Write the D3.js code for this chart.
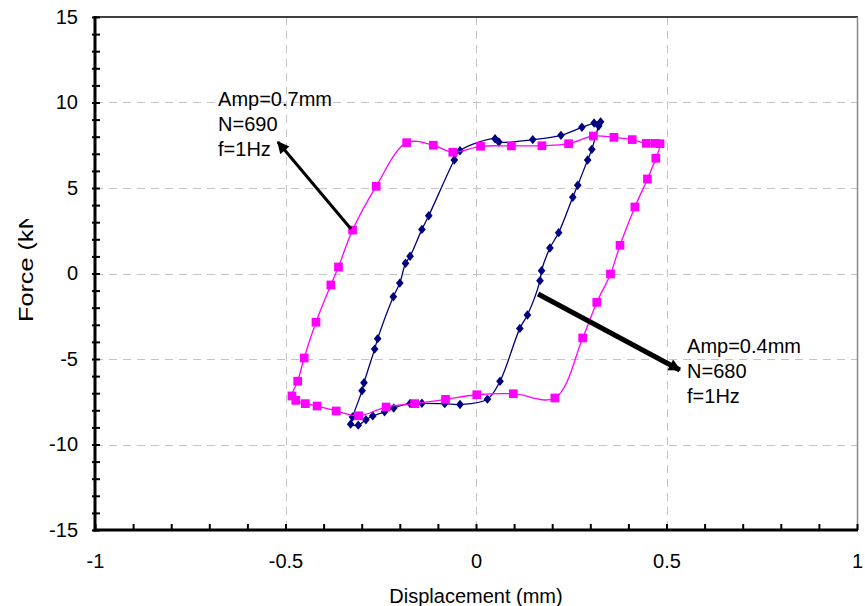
<!DOCTYPE html>
<html>
<head>
<meta charset="utf-8">
<script src="https://cdn.jsdelivr.net/npm/d3@7/dist/d3.min.js"></script>
<style>
  html, body { margin: 0; padding: 0; background: #fff; }
  svg { display: block; font-family: "Liberation Sans", Arial, sans-serif; }
</style>
</head>
<body>
<svg id="chart" width="865" height="606"></svg>
<script>
// Hysteresis loops: force vs. displacement for two test amplitudes (f = 1 Hz)

// Amp = 0.7 mm, N = 690 (magenta squares), points taken around the loop
const amp07Disp = [
  -0.182, -0.262, -0.324, -0.361, -0.381, -0.420, -0.451, -0.468, -0.483, -0.473,
  -0.448, -0.417, -0.367, -0.308, -0.236, -0.161, -0.080, 0.002, 0.098, 0.207,
  0.280, 0.317, 0.353, 0.378, 0.417, 0.450, 0.472, 0.483, 0.470, 0.447,
  0.410, 0.362, 0.308, 0.243, 0.173, 0.093, 0.012, -0.061, -0.112
];
const amp07Force = [
  7.65, 5.10, 2.54, 0.38, -0.67, -2.85, -4.94, -6.30, -7.16, -7.42,
  -7.61, -7.75, -8.04, -8.32, -7.81, -7.61, -7.36, -7.09, -7.03, -7.28,
  -3.77, -1.69, -0.03, 1.65, 3.89, 5.53, 6.74, 7.59, 7.61, 7.61,
  7.83, 7.96, 8.04, 7.59, 7.47, 7.46, 7.44, 7.09, 7.50
];

// Amp = 0.4 mm, N = 680 (navy diamonds)
const amp04Disp = [
  -0.042, 0.050, 0.060, 0.149, 0.223, 0.278, 0.310, 0.327, 0.322,
  0.304, 0.293, 0.267, 0.254, 0.217, 0.194, 0.172, 0.168, 0.135, 0.115, 0.063, 0.030,
  -0.042, -0.082, -0.142, -0.173, -0.216, -0.240, -0.271, -0.289, -0.309, -0.329,
  -0.324, -0.299, -0.294, -0.266, -0.258, -0.217, -0.200, -0.185, -0.173, -0.142, -0.124, -0.057
];
const amp04Force = [
  7.18, 7.88, 7.69, 7.83, 8.08, 8.55, 8.80, 8.87, 8.62,
  7.26, 6.64, 5.16, 4.46, 2.39, 1.49, 0.16, -0.42, -2.43, -3.21, -6.30, -7.35,
  -7.66, -7.61, -7.59, -7.60, -7.87, -8.09, -8.33, -8.55, -8.87, -8.81,
  -8.39, -6.85, -6.39, -4.42, -3.81, -1.36, -0.56, 0.60, 1.01, 2.58, 3.38, 6.64
];

// Axis ticks
const xMajorTicks = [-1, -0.5, 0, 0.5, 1];
const xMinorTicks = d3.range(-10, 11).map(d => d / 10);
const yMajorTicks = [-15, -10, -5, 0, 5, 10, 15];
const yMinorTicks = d3.range(-15, 16);
const xGrid = [-0.5, 0, 0.5];
const yGrid = [-10, -5, 0, 5, 10];

// Annotations: text block anchor (data units) and arrow tail -> head (data units)
const noteLines07 = ["Amp=0.7mm", "N=690", "f=1Hz"];
const noteLines04 = ["Amp=0.4mm", "N=680", "f=1Hz"];
const noteAnchor07 = [-0.677, 9.80];
const noteAnchor04 = [0.554, -4.67];
const arrow07 = [[-0.328, 2.60], [-0.520, 7.69]];
const arrow04 = [[0.163, -1.20], [0.535, -5.64]];

const svg = d3.select("#chart");
const x = d3.scaleLinear().domain([-1, 1]).range([95, 857]);
const y = d3.scaleLinear().domain([-15, 15]).range([530, 17]);

svg.append("rect").attr("width", 865).attr("height", 606).attr("fill", "#fff");

// gridlines
const grid = svg.append("g").attr("stroke", "#c4c4c4").attr("stroke-width", 1)
  .attr("stroke-dasharray", "8,6");
grid.selectAll(".gx").data(xGrid).join("line")
  .attr("x1", d => Math.round(x(d)) + 0.5).attr("x2", d => Math.round(x(d)) + 0.5)
  .attr("y1", y(15)).attr("y2", y(-15));
grid.selectAll(".gy").data(yGrid).join("line")
  .attr("y1", d => Math.round(y(d)) + 0.5).attr("y2", d => Math.round(y(d)) + 0.5)
  .attr("x1", x(-1)).attr("x2", x(1));

// frame: top black, right grey
svg.append("line").attr("x1", x(-1)).attr("x2", x(1) + 1).attr("y1", y(15)).attr("y2", y(15))
  .attr("stroke", "#000").attr("stroke-width", 1.5);
svg.append("line").attr("x1", x(1) + 0.5).attr("x2", x(1) + 0.5).attr("y1", y(15)).attr("y2", y(-15))
  .attr("stroke", "#8a8a8a").attr("stroke-width", 1.5);

const fmt = d => String(d);

// left axis: ticks crossing the line
const yLeft = svg.append("g").attr("transform", `translate(${x(-1)},0)`)
  .call(d3.axisLeft(y).tickValues(yMinorTicks).tickSize(3).tickFormat(""));
const yRight = svg.append("g").attr("transform", `translate(${x(-1)},0)`)
  .call(d3.axisRight(y).tickValues(yMinorTicks).tickSize(5).tickFormat(""));
const yLabels = svg.append("g").attr("transform", `translate(${x(-1)},0)`)
  .call(d3.axisLeft(y).tickValues(yMajorTicks).tickSize(0).tickPadding(17).tickFormat(fmt));

// bottom axis: ticks pointing up into the plot
const xInner = svg.append("g").attr("transform", `translate(0,${y(-15)})`)
  .call(d3.axisTop(x).tickValues(xMinorTicks).tickSize(6).tickFormat(""));
const xLabels = svg.append("g").attr("transform", `translate(0,${y(-15)})`)
  .call(d3.axisBottom(x).tickValues(xMajorTicks).tickSize(0).tickPadding(24).tickFormat(fmt));

[yLeft, yRight, xInner].forEach(g => {
  g.selectAll(".tick line").attr("stroke", "#000").attr("stroke-width", 2);
  g.select(".domain").remove();
});
[yLabels, xLabels].forEach(g => {
  g.select(".domain").remove();
  g.selectAll("text").attr("font-size", 20).attr("fill", "#000")
    .attr("font-family", "Liberation Sans, Arial, sans-serif");
});

// heavy axis lines
svg.append("line").attr("x1", x(-1)).attr("x2", x(-1)).attr("y1", y(15) - 1).attr("y2", y(-15) + 1.5)
  .attr("stroke", "#000").attr("stroke-width", 3);
svg.append("line").attr("x1", x(-1) - 1.5).attr("x2", x(1) + 1).attr("y1", y(-15)).attr("y2", y(-15))
  .attr("stroke", "#000").attr("stroke-width", 3);

// axis titles
svg.append("text").attr("x", x(0)).attr("y", 603).attr("text-anchor", "middle")
  .attr("font-size", 20).text("Displacement (mm)");

const defs = svg.append("defs");
defs.append("clipPath").attr("id", "ytitle-clip")
  .append("rect").attr("x", 0).attr("y", 219).attr("width", 90).attr("height", 387);
svg.append("g").attr("clip-path", "url(#ytitle-clip)")
  .append("text").attr("transform", "translate(33,322) rotate(-90) scale(1.2,1)")
  .attr("font-size", 21).text("Force (kN)");

// marker shapes: square and a near-square diamond
const diamond = {
  draw(ctx, size) {
    const h = Math.sqrt(size) * 0.78, w = h * 0.82;
    ctx.moveTo(0, -h); ctx.lineTo(w, 0); ctx.lineTo(0, h); ctx.lineTo(-w, 0); ctx.closePath();
  }
};

// series
function drawSeries(xs, ys, color, symbol, size) {
  const pts = xs.map((d, i) => [d, ys[i]]);
  const line = d3.line().x(d => x(d[0])).y(d => y(d[1])).curve(d3.curveCatmullRomClosed.alpha(0.5));
  svg.append("path").datum(pts).attr("d", line)
    .attr("fill", "none").attr("stroke", color).attr("stroke-width", 1.3);
  svg.append("g").selectAll("path").data(pts).join("path")
    .attr("transform", d => `translate(${x(d[0])},${y(d[1])})`)
    .attr("d", d3.symbol(symbol, size))
    .attr("fill", color);
}
drawSeries(amp04Disp, amp04Force, "#000080", diamond, 36);
drawSeries(amp07Disp, amp07Force, "#ff00ff", d3.symbolSquare, 76);

// arrows
defs.append("marker").attr("id", "head").attr("viewBox", "0 0 10 10")
  .attr("refX", 9).attr("refY", 5).attr("markerUnits", "userSpaceOnUse")
  .attr("markerWidth", 14).attr("markerHeight", 12).attr("orient", "auto")
  .append("path").attr("d", "M0,0 L10,5 L0,10 Z").attr("fill", "#000");
[[arrow07, 3], [arrow04, 5]].forEach(([a, w]) => {
  svg.append("line")
    .attr("x1", x(a[0][0])).attr("y1", y(a[0][1]))
    .attr("x2", x(a[1][0])).attr("y2", y(a[1][1]))
    .attr("stroke", "#000").attr("stroke-width", w).attr("marker-end", "url(#head)");
});

// annotation text
[[noteLines07, noteAnchor07], [noteLines04, noteAnchor04]].forEach(([lines, p]) => {
  svg.append("g").selectAll("text").data(lines).join("text")
    .attr("x", x(p[0])).attr("y", (d, i) => y(p[1]) + i * 25)
    .attr("font-size", 20).attr("fill", "#000").text(d => d);
});
</script>
</body>
</html>
